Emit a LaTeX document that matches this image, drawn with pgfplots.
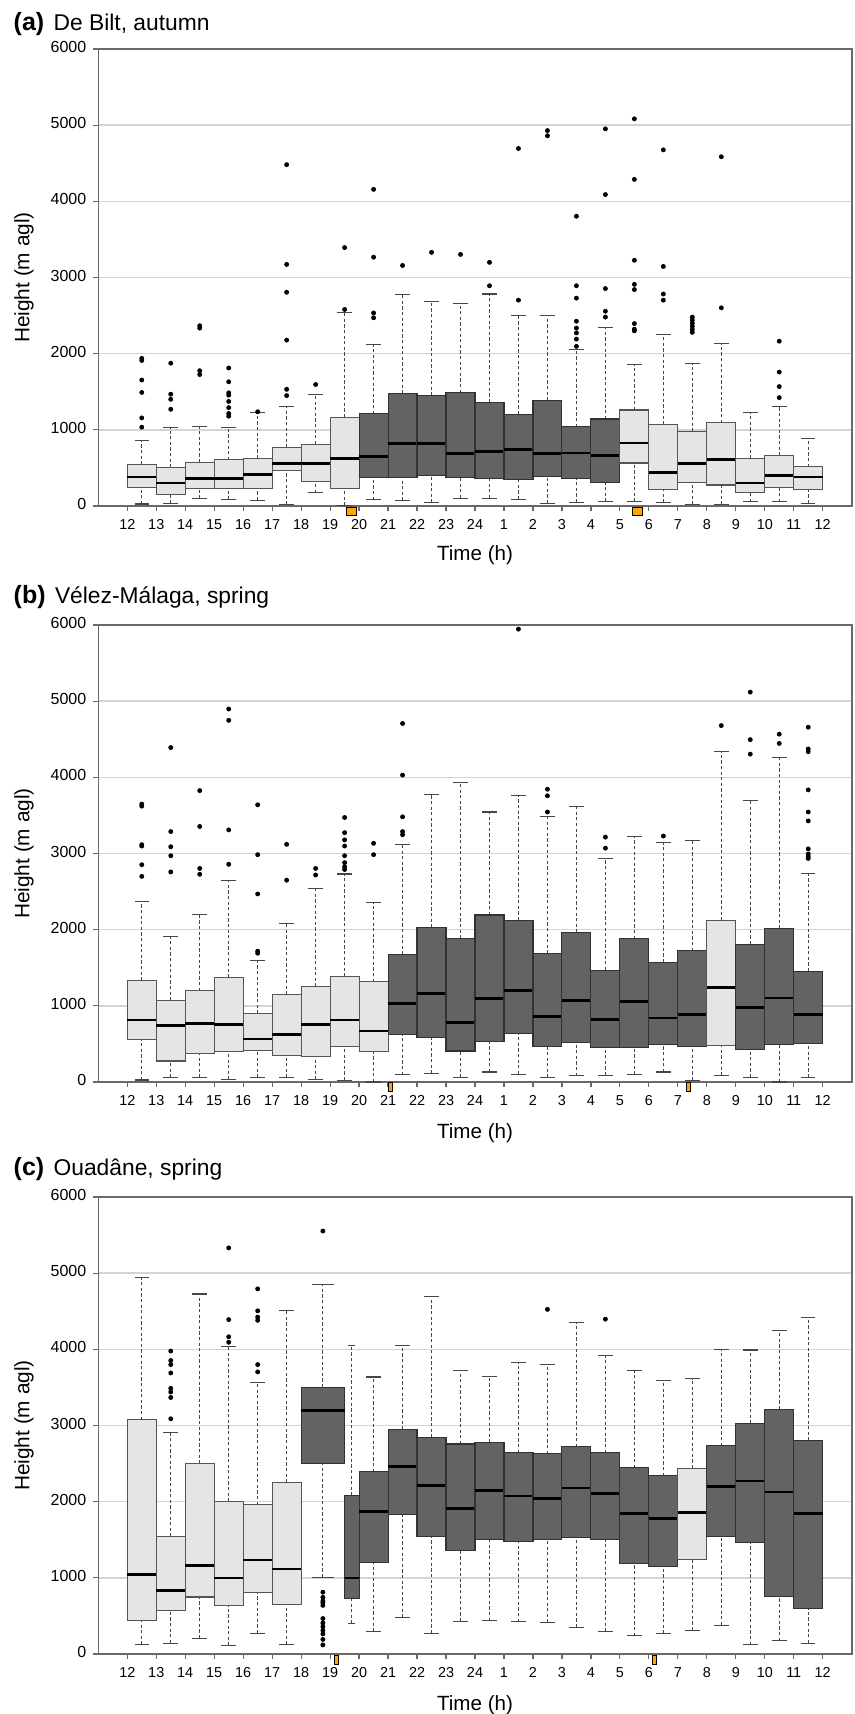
\documentclass[border=0pt]{standalone}
\usepackage{pgfplots}
\pgfplotsset{compat=1.18}
\usepackage{fontspec}
\setmainfont{Liberation Sans}

\definecolor{boxL}{RGB}{229,229,229}
\definecolor{boxD}{RGB}{99,99,99}
\definecolor{edgeL}{RGB}{85,85,85}
\definecolor{edgeD}{RGB}{50,50,50}
\definecolor{whk}{RGB}{70,70,70}
\definecolor{gridc}{RGB}{212,212,212}
\definecolor{framec}{RGB}{105,105,105}
\definecolor{sunc}{RGB}{255,165,0}

\pgfplotsset{
  whiskd/.style={draw=whk, line width=0.55pt, dash pattern=on 1.6pt off 1.2pt, mark=none, forget plot},
  whiskc/.style={draw=whk, line width=0.55pt, solid, mark=none, forget plot},
  medl/.style={draw=black, line width=1.4pt, mark=none, forget plot},
  lbx/.style={fill=boxL, draw=edgeL, line width=0.55pt, mark=none, forget plot},
  dbx/.style={fill=boxD, draw=edgeD, line width=0.55pt, mark=none, forget plot},
  panel/.style={
    scale only axis, width=376.7pt, height=228.5pt,
    anchor=south west,
    xmin=-1, xmax=25, ymin=0, ymax=6000,
    xtick={0,...,24},
    xticklabels={12,13,14,15,16,17,18,19,20,21,22,23,24,1,2,3,4,5,6,7,8,9,10,11,12},
    ytick={0,1000,...,6000},
    yticklabels={0,1000,2000,3000,4000,5000,6000},
    typeset ticklabels with strut,
    ymajorgrids, major grid style={draw=gridc, line width=0.7pt},
    tick align=outside, xtick pos=lower, ytick pos=lower,
    major tick length=2.5pt,
    tick style={draw=framec, line width=0.6pt},
    axis line style={draw=framec, line width=0.8pt},
    xticklabel style={font=\fontsize{7.2}{8}\selectfont},
    yticklabel style={font=\fontsize{8}{9}\selectfont},
    clip=false,
  },
}
% \bx[box width]{position}{lower whisker}{lower quartile}{median}{upper quartile}{upper whisker}{style}
\newcommand\bx[8][1]{%
  \pgfmathsetmacro\xa{#2-#1/2}\pgfmathsetmacro\xb{#2+#1/2}%
  \pgfmathsetmacro\ca{#2-#1/4}\pgfmathsetmacro\cb{#2+#1/4}%
  \edef\bxtmp{%
    \noexpand\addplot[whiskd] coordinates {(#2,#3) (#2,#4)};
    \noexpand\addplot[whiskd] coordinates {(#2,#6) (#2,#7)};
    \noexpand\addplot[whiskc] coordinates {(\ca,#3) (\cb,#3)};
    \noexpand\addplot[whiskc] coordinates {(\ca,#7) (\cb,#7)};
    \noexpand\addplot[#8] coordinates {(\xa,#4) (\xb,#4) (\xb,#6) (\xa,#6)} -- cycle;
    \noexpand\addplot[medl] coordinates {(\xa,#5) (\xb,#5)};
  }\bxtmp}

\begin{document}
\begin{tikzpicture}
\useasboundingbox (0,0) rectangle (427.5pt,-857pt);

% ---------------- (a) ----------------
\begin{axis}[panel, at={(49.15pt,-253pt)}]
\bx{0.5}{27}{239}{380}{547}{863}{lbx}
\bx{1.5}{32}{154}{303}{506}{1030}{lbx}
\bx{2.5}{99}{235}{366}{574}{1039}{lbx}
\bx{3.5}{86}{226}{366}{605}{1026}{lbx}
\bx{4.5}{77}{235}{411}{628}{1224}{lbx}
\bx{5.5}{18}{470}{556}{768}{1306}{lbx}
\bx{6.5}{172}{325}{556}{813}{1464}{lbx}
\bx{7.5}{9}{226}{623}{1166}{2535}{lbx}
\bx{8.5}{81}{380}{655}{1211}{2119}{dbx}
\bx{9.5}{72}{380}{818}{1477}{2774}{dbx}
\bx{10.5}{45}{398}{818}{1450}{2684}{dbx}
\bx{11.5}{104}{380}{687}{1486}{2661}{dbx}
\bx{12.5}{104}{366}{718}{1364}{2783}{dbx}
\bx{13.5}{90}{343}{741}{1206}{2507}{dbx}
\bx{14.5}{36}{393}{691}{1387}{2503}{dbx}
\bx{15.5}{50}{357}{696}{1039}{2060}{dbx}
\bx{16.5}{59}{312}{660}{1143}{2345}{dbx}
\bx{17.5}{59}{565}{827}{1261}{1852}{lbx}
\bx{18.5}{45}{217}{443}{1071}{2254}{lbx}
\bx{19.5}{18}{307}{560}{980}{1866}{lbx}
\bx{20.5}{18}{276}{614}{1093}{2128}{lbx}
\bx{21.5}{54}{176}{303}{623}{1233}{lbx}
\bx{22.5}{54}{244}{402}{664}{1301}{lbx}
\bx{23.5}{36}{217}{380}{515}{890}{lbx}
\addplot[only marks, mark=*, mark size=1pt, black] coordinates {
(0.5,1938)(0.5,1911)(0.5,1654)(0.5,1491)(0.5,1157)(0.5,1035)
(1.5,1875)(1.5,1468)(1.5,1401)(1.5,1270)
(2.5,2367)(2.5,2336)(2.5,1776)(2.5,1726)
(3.5,1812)(3.5,1631)(3.5,1486)(3.5,1455)(3.5,1373)(3.5,1292)(3.5,1215)(3.5,1179)
(4.5,1238)
(5.5,4482)(5.5,3172)(5.5,2806)(5.5,2178)(5.5,1532)(5.5,1450)
(6.5,1595)
(7.5,3393)(7.5,2580)
(8.5,4157)(8.5,3267)(8.5,2535)(8.5,2471)
(9.5,3158)
(10.5,3330)
(11.5,3303)
(12.5,3199)(12.5,2892)
(13.5,4694)(13.5,2702)
(14.5,4929)(14.5,4861)
(15.5,3804)(15.5,2892)(15.5,2729)(15.5,2426)(15.5,2336)(15.5,2273)(15.5,2191)(15.5,2096)
(16.5,4952)(16.5,4089)(16.5,2855)(16.5,2557)(16.5,2480)
(17.5,5083)(17.5,4288)(17.5,3226)(17.5,2910)(17.5,2842)(17.5,2395)(17.5,2322)(17.5,2300)
(18.5,4676)(18.5,3145)(18.5,2783)(18.5,2702)
(19.5,2480)(19.5,2440)(19.5,2400)(19.5,2360)(19.5,2320)(19.5,2280)
(20.5,4586)(20.5,2602)
(22.5,2164)(22.5,1758)(22.5,1568)(22.5,1423)
};
\addplot[only marks, mark=square*, mark size=2pt, mark options={fill=sunc, draw=none, xscale=1.25}] coordinates {(7.75,-66) (17.6,-66)};
\end{axis}

% ---------------- (b) ----------------
\begin{axis}[panel, at={(49.15pt,-541pt)}]
\bx{0.5}{27}{556}{814}{1334}{2374}{lbx}
\bx{1.5}{59}{276}{737}{1072}{1908}{lbx}
\bx{2.5}{59}{371}{773}{1198}{2198}{lbx}
\bx{3.5}{32}{402}{755}{1370}{2641}{lbx}
\bx{4.5}{59}{416}{565}{900}{1592}{lbx}
\bx{5.5}{59}{344}{624}{1149}{2076}{lbx}
\bx{6.5}{32}{339}{760}{1253}{2541}{lbx}
\bx{7.5}{23}{461}{814}{1384}{2731}{lbx}
\bx{8.5}{0}{398}{669}{1316}{2356}{lbx}
\bx{9.5}{95}{629}{1026}{1673}{3120}{dbx}
\bx{10.5}{113}{588}{1162}{2030}{3780}{dbx}
\bx{11.5}{59}{407}{778}{1886}{3934}{dbx}
\bx{12.5}{131}{529}{1099}{2193}{3545}{dbx}
\bx{13.5}{104}{642}{1198}{2125}{3758}{dbx}
\bx{14.5}{59}{466}{855}{1687}{3486}{dbx}
\bx{15.5}{81}{520}{1067}{1963}{3618}{dbx}
\bx{16.5}{90}{448}{823}{1470}{2939}{dbx}
\bx{17.5}{99}{448}{1054}{1881}{3224}{dbx}
\bx{18.5}{131}{493}{841}{1574}{3143}{dbx}
\bx{19.5}{23}{470}{891}{1723}{3170}{dbx}
\bx{20.5}{86}{484}{1239}{2121}{4337}{lbx}
\bx{21.5}{63}{421}{981}{1809}{3695}{dbx}
\bx{22.5}{0}{497}{1103}{2017}{4264}{dbx}
\bx{23.5}{63}{511}{882}{1456}{2740}{dbx}
\addplot[only marks, mark=*, mark size=1pt, black] coordinates {
(0.5,3649)(0.5,3622)(0.5,3116)(0.5,3098)(0.5,2853)(0.5,2700)
(1.5,4391)(1.5,3288)(1.5,3089)(1.5,2971)(1.5,2758)
(2.5,3826)(2.5,3355)(2.5,2804)(2.5,2727)
(3.5,4897)(3.5,4748)(3.5,3310)(3.5,2858)
(4.5,3640)(4.5,2985)(4.5,2469)(4.5,1718)(4.5,1691)
(5.5,3120)(5.5,2650)
(6.5,2804)(6.5,2718)
(7.5,3473)(7.5,3274)(7.5,3179)(7.5,3098)(7.5,2971)(7.5,2880)(7.5,2826)(7.5,2790)
(8.5,3134)(8.5,2985)
(9.5,4707)(9.5,4029)(9.5,3482)(9.5,3288)(9.5,3247)
(13.5,5946)
(14.5,3844)(14.5,3758)(14.5,3545)
(16.5,3215)(16.5,3070)
(18.5,3229)
(20.5,4680)
(21.5,5119)(21.5,4495)(21.5,4305)
(22.5,4567)(22.5,4445)
(23.5,4658)(23.5,4373)(23.5,4337)(23.5,3835)(23.5,3545)(23.5,3428)(23.5,3061)(23.5,2994)(23.5,2962)(23.5,2935)
};
\addplot[only marks, mark=square*, mark size=2.3pt, mark options={fill=sunc, draw=none, xscale=0.45}] coordinates {(9.07,-66) (19.35,-66)};
\end{axis}

% ---------------- (c) ----------------
\begin{axis}[panel, at={(49.15pt,-827pt)}]
\bx{0.5}{125}{437}{1042}{3075}{4939}{lbx}
\bx{1.5}{144}{576}{831}{1542}{2906}{lbx}
\bx{2.5}{207}{749}{1163}{2503}{4727}{lbx}
\bx{3.5}{110}{634}{999}{2003}{4035}{lbx}
\bx{4.5}{274}{812}{1235}{1960}{3569}{lbx}
\bx{5.5}{125}{653}{1115}{2253}{4506}{lbx}
\bx[1.5]{6.75}{1009}{2503}{3195}{3502}{4857}{dbx}
\bx[0.5]{7.75}{399}{725}{999}{2080}{4045}{dbx}
\bx{8.5}{298}{1201}{1874}{2392}{3637}{dbx}
\bx{9.5}{480}{1835}{2460}{2950}{4045}{dbx}
\bx{10.5}{274}{1547}{2210}{2844}{4698}{dbx}
\bx{11.5}{432}{1355}{1912}{2757}{3723}{dbx}
\bx{12.5}{437}{1499}{2143}{2776}{3641}{dbx}
\bx{13.5}{423}{1480}{2075}{2642}{3824}{dbx}
\bx{14.5}{413}{1504}{2047}{2628}{3805}{dbx}
\bx{15.5}{351}{1532}{2181}{2719}{4357}{dbx}
\bx{16.5}{298}{1508}{2109}{2642}{3915}{dbx}
\bx{17.5}{240}{1187}{1840}{2445}{3728}{dbx}
\bx{18.5}{269}{1153}{1777}{2340}{3589}{dbx}
\bx{19.5}{312}{1239}{1859}{2440}{3617}{lbx}
\bx{20.5}{380}{1547}{2195}{2733}{3997}{dbx}
\bx{21.5}{120}{1465}{2272}{3027}{3992}{dbx}
\bx{22.5}{173}{759}{2128}{3214}{4252}{dbx}
\bx{23.5}{144}{596}{1845}{2801}{4415}{dbx}
\addplot[only marks, mark=*, mark size=1pt, black] coordinates {
(1.5,3978)(1.5,3853)(1.5,3800)(1.5,3690)(1.5,3488)(1.5,3440)(1.5,3368)(1.5,3089)
(3.5,5332)(3.5,4391)(3.5,4165)(3.5,4093)
(4.5,4794)(4.5,4506)(4.5,4424)(4.5,4381)(4.5,3800)(4.5,3704)
(6.75,5553)(6.75,812)(6.75,745)(6.75,697)(6.75,673)(6.75,639)(6.75,466)(6.75,408)(6.75,360)(6.75,312)(6.75,264)(6.75,192)(6.75,120)
(14.5,4525)
(16.5,4396)
};
\addplot[only marks, mark=square*, mark size=2.3pt, mark options={fill=sunc, draw=none, xscale=0.45}] coordinates {(7.21,-72) (18.19,-72)};
\end{axis}

% ---------------- texts ----------------
\node[anchor=base west, inner sep=0] at (6.65pt,-15.25pt) {\fontsize{12.5}{14}\selectfont\bfseries (a)\hspace{4.7pt}\mdseries\fontsize{11.4}{13}\selectfont De Bilt, autumn};
\node[anchor=base west, inner sep=0] at (6.65pt,-301.5pt) {\fontsize{12.5}{14}\selectfont\bfseries (b)\hspace{4.7pt}\mdseries\fontsize{11.4}{13}\selectfont Vélez-Málaga, spring};
\node[anchor=base west, inner sep=0] at (6.65pt,-587.75pt) {\fontsize{12.5}{14}\selectfont\bfseries (c)\hspace{4.7pt}\mdseries\fontsize{11.4}{13}\selectfont Ouadâne, spring};

\node[rotate=90, inner sep=0, font=\fontsize{10.4}{12}\selectfont] at (12pt,-138.75pt) {Height (m agl)};
\node[rotate=90, inner sep=0, font=\fontsize{10.4}{12}\selectfont] at (12pt,-426.75pt) {Height (m agl)};
\node[rotate=90, inner sep=0, font=\fontsize{10.4}{12}\selectfont] at (12pt,-712.75pt) {Height (m agl)};

\node[anchor=base, inner sep=0, font=\fontsize{10.3}{12}\selectfont] at (237.5pt,-280pt) {Time (h)};
\node[anchor=base, inner sep=0, font=\fontsize{10.3}{12}\selectfont] at (237.5pt,-569pt) {Time (h)};
\node[anchor=base, inner sep=0, font=\fontsize{10.3}{12}\selectfont] at (237.5pt,-855pt) {Time (h)};
\end{tikzpicture}
\end{document}
